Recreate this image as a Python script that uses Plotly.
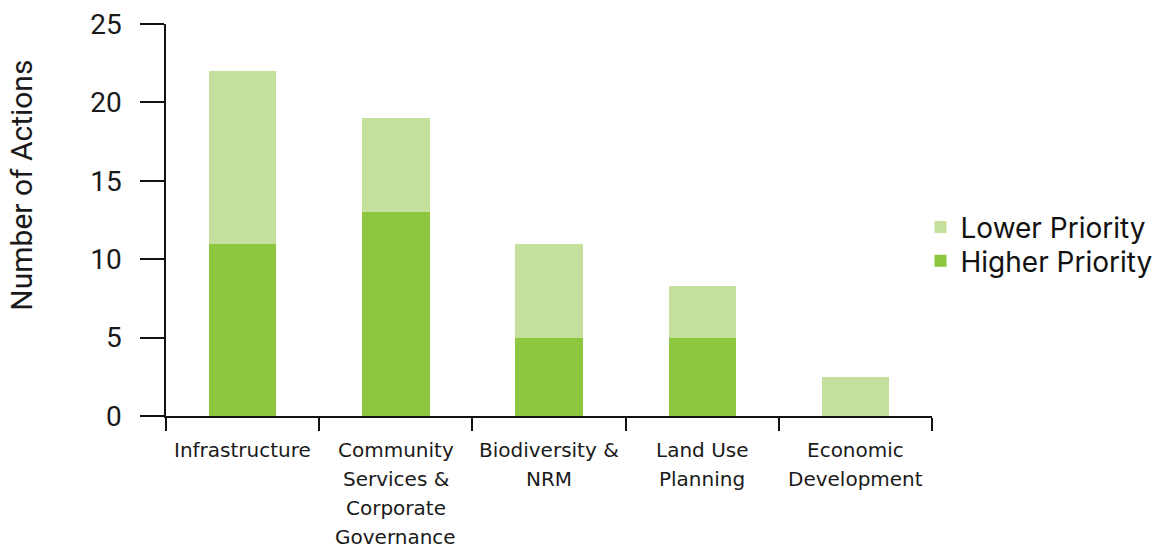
import plotly.graph_objects as go

# Actions by theme, split by priority
categories = ["Infrastructure", "Community<br>Services &<br>Corporate<br>Governance",
              "Biodiversity &<br>NRM", "Land Use<br>Planning", "Economic<br>Development"]
higher_priority = [11, 13, 5, 5, 0]
lower_priority = [11, 6, 6, 3.3, 2.5]
y_ticks = [0, 5, 10, 15, 20, 25]

HIGHER_COLOR = "#8DC63F"
LOWER_COLOR = "#C5E09C"
LABEL_FONT = "DejaVu Sans"
LEGEND_FONT = dict(family="Inter", size=28, color="#111")

fig = go.Figure()
fig.add_trace(go.Bar(x=categories, y=higher_priority, name="Higher Priority", legend="legend2",
                     marker=dict(color=HIGHER_COLOR, line=dict(width=0)), width=0.44))
fig.add_trace(go.Bar(x=categories, y=lower_priority, name="Lower Priority", legend="legend",
                     marker=dict(color=LOWER_COLOR, line=dict(width=0)), width=0.44))

# Category labels, one line per annotation for wider line spacing
for cat in categories:
    for j, line in enumerate(cat.split("<br>")):
        fig.add_annotation(x=cat, y=0, xref="x", yref="paper", text=line, showarrow=False,
                           xanchor="center", yanchor="middle", yshift=-33.5 - 29 * j,
                           font=dict(family=LABEL_FONT, size=20, color="#1a1a1a"))

# Y axis title
fig.add_annotation(x=-0.188, y=0.59, xref="paper", yref="paper", text="Number of Actions",
                   textangle=-90, showarrow=False, xanchor="center", yanchor="middle",
                   font=dict(family="Roboto", size=30, color="#1a1a1a"))

fig.update_layout(
    barmode="stack",
    width=1159, height=548,
    margin=dict(l=166, r=227, t=24, b=131.5, autoexpand=False),
    paper_bgcolor="white", plot_bgcolor="white",
    showlegend=True,
    legend=dict(x=0.985, xanchor="left", y=0.4815, yanchor="middle",
                font=LEGEND_FONT, itemwidth=30, bgcolor="rgba(0,0,0,0)"),
    legend2=dict(x=0.985, xanchor="left", y=0.395, yanchor="middle",
                 font=LEGEND_FONT, itemwidth=30, bgcolor="rgba(0,0,0,0)"),
    xaxis=dict(type="category", showgrid=False, zeroline=False,
               showline=True, linecolor="#111", linewidth=1.5, showticklabels=False,
               tickson="boundaries", ticks="outside", ticklen=13, tickwidth=1.5, tickcolor="#111"),
    yaxis=dict(range=[0, 25], tickvals=y_ticks, showgrid=False, zeroline=False,
               showline=True, linecolor="#111", linewidth=1.5,
               ticks="outside", ticklen=24, tickwidth=1.5, tickcolor="#111",
               ticklabelstandoff=13,
               tickfont=dict(family="Roboto", size=28, color="#1a1a1a")),
)

fig.write_html("out.html")
